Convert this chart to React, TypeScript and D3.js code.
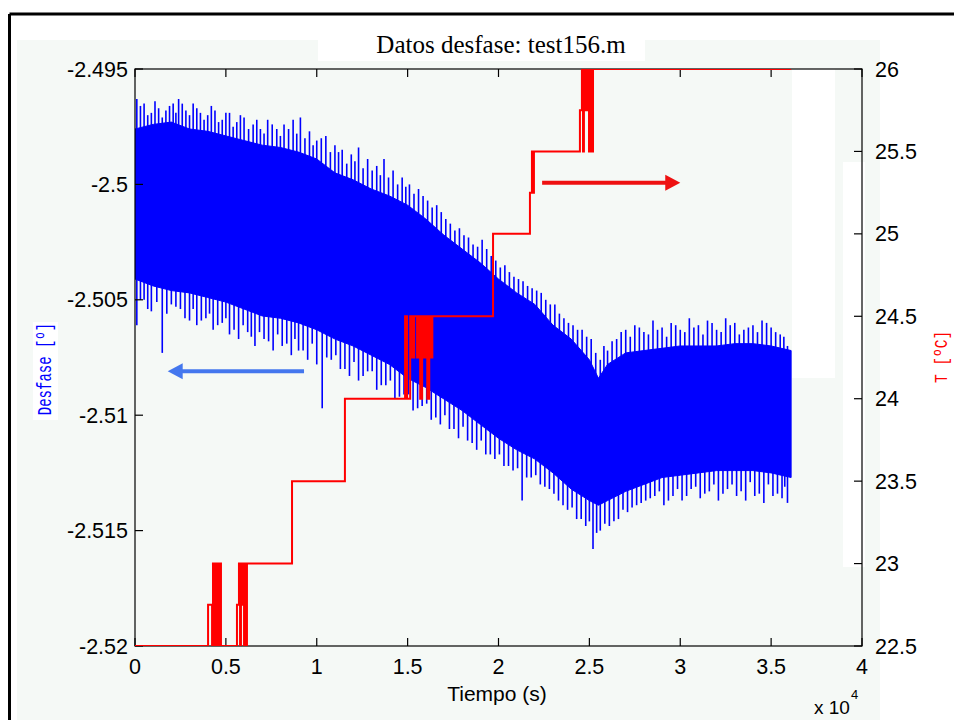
import React from "react";
import * as d3 from "d3";

// ---------- data ----------
const timeGrid = [0, 1000, 2000, 3000, 4000, 5000, 6000, 7000, 8000, 9000, 10000, 11000, 12000, 13000, 14000, 15000, 16000, 17000, 18000, 19000, 20000, 21000, 22000, 23000, 24000, 25000, 25500, 26000, 27000, 28000, 29000, 30000, 31000, 32000, 33000, 34000, 35000, 36100];
const coreUpper = [-2.4976, -2.4974, -2.4973, -2.4976, -2.4977, -2.4979, -2.4981, -2.4983, -2.4984, -2.4986, -2.4989, -2.4995, -2.4998, -2.5002, -2.5005, -2.5009, -2.5015, -2.5022, -2.5028, -2.5034, -2.5041, -2.5047, -2.5052, -2.5061, -2.5067, -2.5076, -2.5084, -2.5078, -2.5073, -2.5072, -2.5071, -2.5070, -2.5070, -2.5070, -2.5069, -2.5069, -2.5070, -2.5072];
const coreLower = [-2.5041, -2.5044, -2.5046, -2.5047, -2.5049, -2.5051, -2.5054, -2.5057, -2.5058, -2.5060, -2.5063, -2.5067, -2.5070, -2.5074, -2.5078, -2.5084, -2.5088, -2.5093, -2.5098, -2.5104, -2.5110, -2.5115, -2.5119, -2.5125, -2.5132, -2.5137, -2.5139, -2.5137, -2.5133, -2.5130, -2.5127, -2.5126, -2.5125, -2.5124, -2.5124, -2.5124, -2.5125, -2.5127];

const spikeUpT = [100, 500, 900, 1300, 1700, 2100, 2400, 2800, 3200, 3600, 4000, 4400, 4800, 5200, 5600, 6000, 6500, 6900, 7300, 7800, 8200, 8700, 9100, 9600, 10000, 10500, 11000, 11400, 11900, 12300, 12800, 13300, 13700, 14200, 14700, 15100, 15600, 16100, 16600, 17100, 17600, 18100, 18600, 19100, 19600, 20100, 20600, 21100, 21600, 22100, 22600, 23100, 23600, 24100, 24600, 25100, 25600, 26000, 26500, 27000, 27500, 28000, 28500, 29000, 29500, 30000, 30500, 31000, 31500, 32000, 32500, 33000, 33500, 34000, 34500, 35000, 35500, 35900];
const spikeUpV = [-2.4963, -2.4965, -2.4969, -2.4967, -2.4968, -2.4965, -2.4963, -2.4968, -2.4965, -2.4969, -2.4970, -2.4968, -2.4972, -2.4969, -2.4973, -2.4971, -2.4974, -2.4976, -2.4972, -2.4976, -2.4974, -2.4972, -2.4971, -2.4977, -2.4981, -2.4979, -2.4983, -2.4985, -2.4987, -2.4984, -2.4989, -2.4992, -2.4989, -2.4994, -2.4997, -2.5000, -2.5002, -2.5007, -2.5009, -2.5015, -2.5020, -2.5022, -2.5026, -2.5024, -2.5031, -2.5036, -2.5038, -2.5041, -2.5044, -2.5046, -2.5050, -2.5052, -2.5058, -2.5061, -2.5063, -2.5067, -2.5076, -2.5072, -2.5067, -2.5063, -2.5061, -2.5064, -2.5059, -2.5062, -2.5060, -2.5063, -2.5058, -2.5061, -2.5059, -2.5063, -2.5058, -2.5060, -2.5063, -2.5061, -2.5059, -2.5062, -2.5065, -2.5070];
const spikeUp2T = [300, 700, 1100, 1500, 1900, 2250, 2600, 3000, 3400, 3800, 4200, 4600, 5000, 5400, 5800, 6250, 6700, 7100, 7550, 8000, 8450, 8900, 9350, 9800, 10250, 10750, 11200, 11650, 12100, 12550, 13050, 13500, 13950, 14450, 14900, 15350, 15850, 16350, 16850, 17350, 17850, 18350, 18850, 19350, 19850, 20350, 20850, 21350, 21850, 22350, 22850, 23350, 23850, 24350, 24850, 25350, 25800, 26250, 26750, 27250, 27750, 28250, 28750, 29250, 29750, 30250, 30750, 31250, 31750, 32250, 32750, 33250, 33750, 34250, 34750, 35250, 35700];
const spikeUp2V = [-2.4966, -2.4970, -2.4964, -2.4971, -2.4966, -2.4969, -2.4965, -2.4970, -2.4967, -2.4972, -2.4966, -2.4973, -2.4969, -2.4975, -2.4970, -2.4976, -2.4972, -2.4978, -2.4974, -2.4979, -2.4976, -2.4978, -2.4980, -2.4983, -2.4980, -2.4986, -2.4986, -2.4991, -2.4990, -2.4993, -2.4994, -2.4996, -2.4997, -2.5000, -2.5001, -2.5004, -2.5005, -2.5010, -2.5012, -2.5017, -2.5019, -2.5023, -2.5027, -2.5028, -2.5033, -2.5035, -2.5040, -2.5042, -2.5045, -2.5047, -2.5052, -2.5056, -2.5060, -2.5063, -2.5066, -2.5073, -2.5070, -2.5068, -2.5064, -2.5066, -2.5062, -2.5065, -2.5063, -2.5066, -2.5061, -2.5064, -2.5062, -2.5065, -2.5060, -2.5064, -2.5061, -2.5065, -2.5062, -2.5064, -2.5060, -2.5064, -2.5066];

const spikeDownT = [100, 500, 900, 1500, 2000, 2500, 3000, 3400, 3900, 4300, 4800, 5200, 5700, 6200, 6600, 7100, 7600, 8100, 8600, 9000, 9500, 10000, 10300, 10800, 11300, 11800, 12300, 12800, 13300, 13800, 14300, 14800, 15300, 15800, 16300, 16800, 17300, 17800, 18300, 18800, 19300, 19800, 20300, 20800, 21300, 21800, 22300, 22800, 23300, 23800, 24300, 24800, 25200, 25600, 26100, 26600, 27100, 27600, 28100, 28600, 29100, 29600, 30100, 30600, 31100, 31600, 32100, 32600, 33100, 33600, 34100, 34600, 35100, 35600, 35900];
const spikeDownV = [-2.5061, -2.5050, -2.5055, -2.5073, -2.5052, -2.5054, -2.5059, -2.5061, -2.5058, -2.5063, -2.5060, -2.5065, -2.5067, -2.5064, -2.5070, -2.5067, -2.5072, -2.5070, -2.5074, -2.5072, -2.5076, -2.5078, -2.5097, -2.5076, -2.5080, -2.5083, -2.5085, -2.5081, -2.5089, -2.5087, -2.5093, -2.5091, -2.5098, -2.5096, -2.5102, -2.5104, -2.5106, -2.5110, -2.5111, -2.5115, -2.5117, -2.5119, -2.5122, -2.5124, -2.5137, -2.5127, -2.5130, -2.5132, -2.5137, -2.5141, -2.5145, -2.5148, -2.5158, -2.5150, -2.5148, -2.5145, -2.5142, -2.5139, -2.5137, -2.5135, -2.5139, -2.5135, -2.5137, -2.5132, -2.5136, -2.5133, -2.5137, -2.5132, -2.5135, -2.5137, -2.5135, -2.5138, -2.5135, -2.5136, -2.5138];
const spikeDown2T = [300, 700, 1200, 1750, 2250, 2750, 3200, 3650, 4100, 4550, 5000, 5450, 5950, 6400, 6850, 7350, 7850, 8350, 8800, 9250, 9750, 10550, 11050, 11550, 12050, 12550, 13050, 13550, 14050, 14550, 15050, 15550, 16050, 16550, 17050, 17550, 18050, 18550, 19050, 19550, 20050, 20550, 21050, 21550, 22050, 22550, 23050, 23550, 24050, 24550, 25000, 25400, 25850, 26350, 26850, 27350, 27850, 28350, 28850, 29350, 29850, 30350, 30850, 31350, 31850, 32350, 32850, 33350, 33850, 34350, 34850, 35350, 35750];
const spikeDown2V = [-2.5050, -2.5054, -2.5051, -2.5056, -2.5053, -2.5058, -2.5054, -2.5059, -2.5056, -2.5061, -2.5058, -2.5063, -2.5061, -2.5066, -2.5064, -2.5068, -2.5065, -2.5069, -2.5067, -2.5072, -2.5069, -2.5075, -2.5074, -2.5080, -2.5077, -2.5083, -2.5081, -2.5087, -2.5085, -2.5092, -2.5091, -2.5097, -2.5095, -2.5101, -2.5100, -2.5106, -2.5105, -2.5112, -2.5111, -2.5117, -2.5117, -2.5122, -2.5123, -2.5127, -2.5126, -2.5131, -2.5134, -2.5139, -2.5140, -2.5145, -2.5146, -2.5151, -2.5147, -2.5146, -2.5141, -2.5140, -2.5138, -2.5136, -2.5133, -2.5137, -2.5132, -2.5135, -2.5131, -2.5134, -2.5130, -2.5134, -2.5130, -2.5133, -2.5129, -2.5134, -2.5130, -2.5134, -2.5131];

const tempT = [0, 4020, 4240, 4290, 4350, 4400, 4460, 4510, 4570, 4680, 4730, 5610, 5720, 5780, 5830, 5890, 5940, 6000, 6050, 6110, 6160, 8640, 11550, 14860, 14970, 15140, 15250, 15360, 15520, 15580, 15690, 15800, 15910, 15970, 16080, 16190, 16300, 16360, 19700, 21730, 21840, 21900, 21950, 24480, 24590, 24650, 24700, 24810, 24870, 24980, 25040, 25150, 25200, 36100];
const tempV = [22.5, 22.75, 22.5, 23, 22.5, 23, 22.5, 23, 22.5, 23, 22.5, 22.75, 23, 22.5, 23, 22.75, 23, 22.5, 23, 22.5, 23, 23.5, 24, 24.5, 24, 24.5, 24.25, 24.5, 24.25, 24.5, 24, 24.5, 24.25, 24.5, 24, 24.5, 24.25, 24.5, 25, 25.25, 25.5, 25.25, 25.5, 25.75, 26, 25.5, 26, 25.75, 26, 25.5, 26, 25.5, 26, 26];

const xTicks = [0, 5000, 10000, 15000, 20000, 25000, 30000, 35000, 40000];
const xTickLabels = ["0", "0.5", "1", "1.5", "2", "2.5", "3", "3.5", "4"];
const yLeftTicks = [-2.52, -2.515, -2.51, -2.505, -2.5, -2.495];
const yLeftTickLabels = ["-2.52", "-2.515", "-2.51", "-2.505", "-2.5", "-2.495"];
const yRightTicks = [22.5, 23, 23.5, 24, 24.5, 25, 25.5, 26];
const yRightTickLabels = ["22.5", "23", "23.5", "24", "24.5", "25", "25.5", "26"];

const titleText = "Datos desfase: test156.m";
const xLabel = "Tiempo (s)";
const yLeftLabel = "Desfase [º]";
const yRightLabel = "T [ºC]";

// annotation arrows (data coords)
const blueArrow = { t0: 9300, t1: 1800, v: -2.5081 };
const redArrow = { t0: 22400, t1: 30000, v: 25.31 };

export default function App() {
  const W = 954, H = 720;
  const L = 135, R = 862, T = 69, B = 646;
  const x = d3.scaleLinear().domain([0, 40000]).range([L, R]);
  const yL = d3.scaleLinear().domain([-2.52, -2.495]).range([B, T]);
  const yR = d3.scaleLinear().domain([22.5, 26]).range([B, T]);

  const upInterp = d3.scaleLinear().domain(timeGrid).range(coreUpper);
  const loInterp = d3.scaleLinear().domain(timeGrid).range(coreLower);

  const coreArea = d3.area<number>()
    .x((d, i) => x(timeGrid[i]))
    .y0((d, i) => yL(coreLower[i]))
    .y1((d, i) => yL(coreUpper[i]))(timeGrid as any) || "";

  const tempLine = d3.line<number>()
    .x((d, i) => x(tempT[i]))
    .y((d, i) => yR(tempV[i]))
    .curve(d3.curveStepAfter)(tempT as any) || "";

  const blue = "#0000ff";
  const red = "#ff0000";
  const bg = "#f5f9f6";
  const sans = "'Liberation Sans', Arial, sans-serif";
  const mono = "'Liberation Mono', 'DejaVu Sans Mono', monospace";
  const tickFs = 21.5;

  const bax0 = x(blueArrow.t0), bax1 = x(blueArrow.t1), bay = yL(blueArrow.v);
  const rax0 = x(redArrow.t0), rax1 = x(redArrow.t1), ray = yR(redArrow.v);

  const spikes = (ts: number[], vs: number[], interp: (t: number) => number, dir: number, key: string) =>
    ts.map((t, i) => (
      <line key={key + i} x1={x(t)} x2={x(t)} y1={yL(interp(t)) + 2 * dir} y2={yL(vs[i])} stroke={blue} strokeWidth={1.6} />
    ));

  return (
    <svg width={W} height={H} style={{ position: "absolute", left: 0, top: 0, background: "#fff" }}>
      <defs>
        <clipPath id="plotclip"><rect x={L} y={T} width={R - L} height={B - T} /></clipPath>
      </defs>
      {/* figure background */}
      <rect x={0} y={0} width={W} height={H} fill="#ffffff" />
      <rect x={17} y={40} width={863} height={H - 40} fill={bg} />
      {/* white artefact patches */}
      <rect x={318} y={28} width={327} height={33} fill="#ffffff" />
      <rect x={792} y={T} width={43} height={309} fill="#ffffff" />
      <rect x={843} y={162} width={22} height={405} fill="#ffffff" />
      <rect x={33} y={322} width={25} height={98} fill="#ffffff" />
      {/* frame */}
      <line x1={9.5} y1={14} x2={W} y2={14} stroke="#000" strokeWidth={3} />
      <line x1={9.5} y1={14} x2={9.5} y2={H} stroke="#000" strokeWidth={3} />

      {/* blue data */}
      <g clipPath="url(#plotclip)">
        <path d={coreArea} fill={blue} stroke={blue} strokeWidth={1} />
        {spikes(spikeUpT, spikeUpV, upInterp, 1, "u")}
        {spikes(spikeUp2T, spikeUp2V, upInterp, 1, "u2")}
        {spikes(spikeDownT, spikeDownV, loInterp, -1, "d")}
        {spikes(spikeDown2T, spikeDown2V, loInterp, -1, "d2")}
      </g>

      {/* axes box */}
      <rect x={L} y={T} width={R - L} height={B - T} fill="none" stroke="#000" strokeWidth={1.2} />
      {/* x ticks */}
      {xTicks.map((t, i) => (
        <g key={"xt" + i}>
          <line x1={x(t)} x2={x(t)} y1={B} y2={B - 8} stroke="#000" strokeWidth={1.2} />
          <line x1={x(t)} x2={x(t)} y1={T} y2={T + 8} stroke="#000" strokeWidth={1.2} />
          <text x={x(t)} y={B + 28} textAnchor="middle" fontFamily={sans} fontSize={tickFs} fill="#000">{xTickLabels[i]}</text>
        </g>
      ))}
      {/* left ticks */}
      {yLeftTicks.map((v, i) => (
        <g key={"yl" + i}>
          <line x1={L} x2={L + 8} y1={yL(v)} y2={yL(v)} stroke="#000" strokeWidth={1.2} />
          <text x={L - 7} y={yL(v) + 7.5} textAnchor="end" fontFamily={sans} fontSize={tickFs} fill="#000">{yLeftTickLabels[i]}</text>
        </g>
      ))}
      {/* right ticks */}
      {yRightTicks.map((v, i) => (
        <g key={"yr" + i}>
          <line x1={R} x2={R - 8} y1={yR(v)} y2={yR(v)} stroke="#000" strokeWidth={1.2} />
          <text x={R + 13} y={yR(v) + 7.5} textAnchor="start" fontFamily={sans} fontSize={tickFs} fill="#000">{yRightTickLabels[i]}</text>
        </g>
      ))}
      {/* temperature on top */}
      <g clipPath="url(#plotclip)">
        <path d={tempLine} fill="none" stroke={red} strokeWidth={2} />
      </g>

      {/* arrows */}
      <line x1={bax0} x2={bax1 + 12} y1={bay} y2={bay} stroke="#4477ee" strokeWidth={4} />
      <path d={`M${bax1},${bay} L${bax1 + 15},${bay - 8} L${bax1 + 15},${bay + 8} Z`} fill="#4477ee" />
      <line x1={rax0} x2={rax1 - 12} y1={ray} y2={ray} stroke="#ee1111" strokeWidth={4} />
      <path d={`M${rax1},${ray} L${rax1 - 15},${ray - 8} L${rax1 - 15},${ray + 8} Z`} fill="#ee1111" />

      {/* texts */}
      <text x={501} y={53} textAnchor="middle" fontFamily="'Liberation Serif', 'Times New Roman', serif" fontSize={25} fill="#000">{titleText}</text>
      <text x={497} y={701} textAnchor="middle" fontFamily={sans} fontSize={21} fill="#000">{xLabel}</text>
      <text x={814} y={714} fontFamily={sans} fontSize={19} fill="#000">x 10</text>
      <text x={851} y={699} fontFamily={sans} fontSize={13} fill="#000">4</text>
      <text transform={`translate(51,${369}) rotate(-90) scale(1,1.5)`} textAnchor="middle" fontFamily={mono} fontSize={14} fill="#0000ff">{yLeftLabel}</text>
      <text transform={`translate(947,${357}) rotate(-90) scale(1,1.3)`} textAnchor="middle" fontFamily={mono} fontSize={14.5} fill="#ff0000">{yRightLabel}</text>
    </svg>
  );
}
